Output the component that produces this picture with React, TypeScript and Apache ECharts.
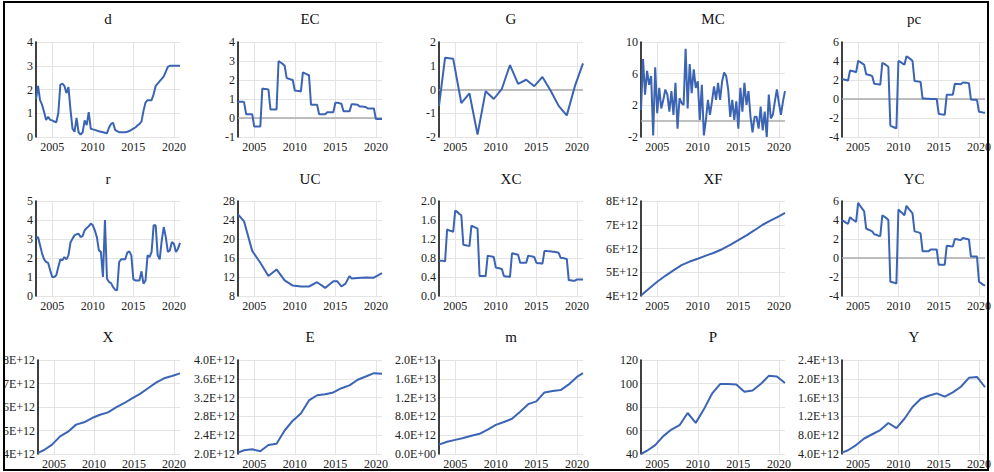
import { useEffect, useRef } from "react";
import * as echarts from "echarts";

// ---------- time positions ----------
const QUARTERS: number[] = Array.from({ length: 72 }, (_, i) => 2003 + i / 4);
const ANNUAL_Q4: number[] = [2003, 2003.75, 2004.75, 2005.75, 2006.75, 2007.75, 2008.75, 2009.75, 2010.75, 2011.75, 2012.75, 2013.75, 2014.75, 2015.75, 2016.75, 2017.75, 2018.75, 2019.75, 2020.75];
const YEARS_END: number[] = [2003, 2004, 2005, 2006, 2007, 2008, 2009, 2010, 2011, 2012, 2013, 2014, 2015, 2016, 2017, 2018, 2019, 2020, 2020.75];
const UC_X: number[] = [2003, 2003.75, 2004.75, 2005.75, 2006.75, 2007.75, 2008.75, 2009.75, 2010.75, 2011.75, 2012.75, 2013.75, 2014.75, 2015.25, 2015.75, 2016.25, 2016.75, 2017.0, 2017.75, 2018.75, 2019.75, 2020.75];
const X_TICKS: number[] = [2005, 2010, 2015, 2020];

// ---------- series values ----------
const D: number[] = [
  1.6, 2.15, 1.55, 1.35, 1.05, 0.72, 0.85, 0.72,
  0.7, 0.65, 0.62, 1.0, 2.2, 2.25, 2.15, 1.85,
  2.1, 1.15, 0.35, 0.22, 0.8, 0.2, 0.1, 0.2,
  0.7, 0.5, 1.05, 0.35, 0.32, 0.3, 0.27, 0.24,
  0.22, 0.2, 0.18, 0.16, 0.4, 0.55, 0.6, 0.3,
  0.25, 0.2, 0.2, 0.2, 0.2, 0.22, 0.25, 0.3,
  0.35, 0.4, 0.48, 0.55, 0.65, 1.1, 1.45, 1.55,
  1.55, 1.55, 1.8, 2.15, 2.25, 2.35, 2.45, 2.55,
  2.75, 2.95, 3.0, 3.0, 3.0, 3.0, 3.0, 3.0,
];
const EC: number[] = [
  0.85, 0.85, 0.85, 0.84, 0.2, 0.2, 0.2, 0.2,
  -0.45, -0.45, -0.45, -0.45, 1.55, 1.53, 1.52, 1.5,
  0.45, 0.45, 0.45, 0.45, 3.0, 2.92, 2.85, 2.75,
  2.1, 2.07, 2.03, 2.0, 1.45, 1.43, 1.42, 1.4,
  2.4, 2.35, 2.3, 2.25, 0.7, 0.7, 0.7, 0.7,
  0.2, 0.2, 0.2, 0.2, 0.3, 0.3, 0.3, 0.3,
  0.8, 0.8, 0.78, 0.75, 0.35, 0.35, 0.35, 0.35,
  0.72, 0.72, 0.71, 0.7, 0.6, 0.6, 0.59, 0.58,
  0.5, 0.5, 0.5, 0.5, -0.05, -0.05, -0.05, -0.05,
];
const G: number[] = [-0.69, 1.34, 1.29, -0.57, -0.16, -1.9, -0.07, -0.4, 0.03, 1.03, 0.24, 0.41, 0.14, 0.53, -0.04, -0.69, -1.09, 0.14, 1.1];
const MC: number[] = [
  1.4, 7.85, 3.35, 6.35, 4.6, 5.7, -1.8, 6.8, 1.0, 4.2,
  1.6, 2.7, 4.0, 3.35, 1.2, 3.8, 0.8, 4.85, -0.95, 2.9,
  2.3, 2.05, 9.15, 1.6, 7.2, 3.55, 6.55, 4.2, 5.05, 0.15,
  4.6, -1.8, 0.15, 2.7, 0.8, 2.5, 4.4, 2.7, 4.85, 2.7,
  5.05, 6.15, 5.7, 4.0, 0.55, 2.7, 0.15, 2.5, -0.95, 4.2,
  1.2, 4.85, 2.05, 3.8, 0.55, -1.4, 0.55, 0.55, -0.95, 1.85,
  -1.15, 1.2, -2.0, 3.35, 0.35, 0.8, 2.5, 4.0, 2.3, 0.8,
  2.5, 3.8,
];
const PC: number[] = [
  2.1, 2.05, 2.0, 1.95, 3.0, 2.95, 2.9, 2.8,
  4.0, 3.9, 3.75, 3.6, 2.6, 2.55, 2.5, 2.4,
  1.6, 1.57, 1.55, 1.5, 3.8, 3.7, 3.55, 3.4,
  -2.8, -2.9, -3.0, -3.1, 4.0, 3.9, 3.75, 3.6,
  4.5, 4.35, 4.2, 4.0, 1.9, 1.87, 1.83, 1.8,
  0.05, 0.04, 0.03, 0.02, 0.0, 0.0, 0.0, 0.0,
  -1.55, -1.6, -1.62, -1.65, 0.45, 0.45, 0.45, 0.45,
  1.6, 1.58, 1.57, 1.55, 1.75, 1.72, 1.7, 1.65,
  -0.05, -0.07, -0.08, -0.1, -1.35, -1.38, -1.42, -1.45,
];
const R: number[] = [
  3.05, 3.1, 2.67, 2.23, 1.93, 1.79, 1.74, 1.35, 1.0, 1.0,
  1.09, 1.53, 1.93, 1.88, 2.05, 1.93, 2.14, 2.81, 3.02, 3.19,
  3.25, 3.28, 3.1, 3.16, 3.46, 3.58, 3.67, 3.81, 3.72, 3.46,
  3.1, 2.4, 2.32, 1.0, 4.0, 0.91, 0.74, 0.68, 0.47, 0.33,
  0.3, 1.79, 1.93, 1.93, 1.93, 2.28, 2.35, 2.14, 0.88, 0.82,
  0.82, 0.82, 1.3, 0.65, 0.82, 2.14, 2.05, 2.32, 3.72, 3.72,
  2.14, 1.93, 2.93, 3.63, 3.1, 2.32, 2.4, 2.84, 2.75, 2.32,
  2.49, 2.8,
];
const UC: number[] = [25.2, 23.7, 17.5, 15.0, 12.2, 13.6, 11.3, 10.2, 10.0, 10.0, 10.9, 9.7, 11.1, 11.1, 10.0, 10.6, 12.2, 11.7, 11.8, 11.9, 11.85, 12.8];
const XC: number[] = [
  0.75, 0.74, 0.74, 0.73, 1.4, 1.38, 1.37, 1.35,
  1.8, 1.77, 1.73, 1.7, 1.08, 1.07, 1.06, 1.05,
  1.48, 1.46, 1.44, 1.42, 0.42, 0.42, 0.42, 0.42,
  0.85, 0.84, 0.83, 0.82, 0.6, 0.59, 0.58, 0.57,
  0.42, 0.41, 0.41, 0.4, 0.9, 0.89, 0.88, 0.87,
  0.7, 0.7, 0.7, 0.7, 0.85, 0.84, 0.83, 0.82,
  0.7, 0.69, 0.69, 0.68, 0.95, 0.95, 0.94, 0.94,
  0.93, 0.93, 0.92, 0.91, 0.8, 0.8, 0.79, 0.78,
  0.33, 0.33, 0.32, 0.32, 0.35, 0.35, 0.35, 0.35,
];
const XF: number[] = [4.02e12, 4.32e12, 4.6e12, 4.85e12, 5.08e12, 5.3e12, 5.45e12, 5.57e12, 5.7e12, 5.82e12, 5.97e12, 6.15e12, 6.35e12, 6.55e12, 6.77e12, 7.0e12, 7.18e12, 7.35e12, 7.5e12];
const YC: number[] = [
  4.0, 3.85, 3.7, 3.6, 4.3, 4.1, 3.95, 3.8,
  5.8, 5.5, 5.2, 4.9, 3.1, 3.0, 2.9, 2.8,
  2.5, 2.45, 2.35, 2.3, 4.5, 4.35, 4.2, 4.0,
  -2.5, -2.55, -2.6, -2.7, 5.1, 4.9, 4.7, 4.5,
  5.5, 5.2, 4.95, 4.7, 2.8, 2.75, 2.7, 2.6,
  0.7, 0.7, 0.7, 0.7, 0.9, 0.9, 0.9, 0.9,
  -0.7, -0.7, -0.7, -0.7, 1.3, 1.27, 1.23, 1.2,
  2.0, 1.97, 1.93, 1.9, 2.1, 2.05, 2.0, 1.95,
  0.15, 0.15, 0.15, 0.15, -2.5, -2.65, -2.8, -2.9,
];
const X: number[] = [4.05e12, 4.17e12, 4.4e12, 4.75e12, 4.95e12, 5.25e12, 5.35e12, 5.53e12, 5.67e12, 5.77e12, 5.98e12, 6.16e12, 6.37e12, 6.56e12, 6.8e12, 7.04e12, 7.22e12, 7.32e12, 7.43e12];
const E: number[] = [2.03e12, 2.08e12, 2.1e12, 2.06e12, 2.19e12, 2.22e12, 2.5e12, 2.71e12, 2.86e12, 3.14e12, 3.25e12, 3.27e12, 3.31e12, 3.4e12, 3.46e12, 3.58e12, 3.65e12, 3.72e12, 3.71e12];
const M: number[] = [2.0e12, 2.6e12, 3.0e12, 3.4e12, 3.9e12, 4.3e12, 5.2e12, 6.2e12, 6.8e12, 7.5e12, 9.0e12, 10.6e12, 11.2e12, 13.1e12, 13.4e12, 13.6e12, 14.8e12, 16.4e12, 17.2e12];
const P: number[] = [40, 42.8, 47.6, 55.2, 60.8, 64.5, 74.9, 66.5, 78, 91.3, 99.5, 99.5, 99.2, 93, 94, 99.5, 106.5, 106, 100.5];
const Y: number[] = [4.3e12, 4.8e12, 5.9e12, 7.3e12, 8.2e12, 9.1e12, 10.6e12, 9.5e12, 11.5e12, 14.0e12, 15.7e12, 16.4e12, 16.9e12, 16.2e12, 17.1e12, 18.3e12, 20.2e12, 20.4e12, 18.2e12];

// ---------- formatting ----------
function sci(v: number, digits: number): string {
  if (Math.abs(v) < 1e-6) return (0).toFixed(digits) + "E+00";
  const s = v.toExponential(digits);
  const [mant, ex] = s.split("e");
  const sign = ex[0] === "-" ? "-" : "+";
  const num = ex.replace(/[+-]/, "").padStart(2, "0");
  return mant + "E" + sign + num;
}
const intFmt = (v: number) => String(Math.round(v));
const dec1 = (v: number) => v.toFixed(1);
const sci0 = (v: number) => sci(v, 0);
const sci1 = (v: number) => sci(v, 1);
const yearFmt = (v: number) => String(Math.round(v));

type Panel = { name: string; x: number[]; y: number[]; min: number; max: number; interval: number; fmt: (v: number) => string; zero?: boolean };

const PANELS: Panel[] = [
  { name: "d", x: QUARTERS, y: D, min: 0, max: 4, interval: 1, fmt: intFmt },
  { name: "EC", x: QUARTERS, y: EC, min: -1, max: 4, interval: 1, fmt: intFmt, zero: true },
  { name: "G", x: ANNUAL_Q4, y: G, min: -2, max: 2, interval: 1, fmt: intFmt, zero: true },
  { name: "MC", x: QUARTERS, y: MC, min: -2, max: 10, interval: 4, fmt: intFmt, zero: true },
  { name: "pc", x: QUARTERS, y: PC, min: -4, max: 6, interval: 2, fmt: intFmt, zero: true },
  { name: "r", x: QUARTERS, y: R, min: 0, max: 5, interval: 1, fmt: intFmt },
  { name: "UC", x: UC_X, y: UC, min: 8, max: 28, interval: 4, fmt: intFmt },
  { name: "XC", x: QUARTERS, y: XC, min: 0, max: 2, interval: 0.4, fmt: dec1 },
  { name: "XF", x: YEARS_END, y: XF, min: 4e12, max: 8e12, interval: 1e12, fmt: sci0 },
  { name: "YC", x: QUARTERS, y: YC, min: -4, max: 6, interval: 2, fmt: intFmt, zero: true },
  { name: "X", x: ANNUAL_Q4, y: X, min: 4e12, max: 8e12, interval: 1e12, fmt: sci0 },
  { name: "E", x: ANNUAL_Q4, y: E, min: 2e12, max: 4e12, interval: 0.4e12, fmt: sci1 },
  { name: "m", x: YEARS_END, y: M, min: 0, max: 2e13, interval: 4e12, fmt: sci1 },
  { name: "P", x: ANNUAL_Q4, y: P, min: 40, max: 120, interval: 20, fmt: intFmt },
  { name: "Y", x: ANNUAL_Q4, y: Y, min: 4e12, max: 2.4e13, interval: 4e12, fmt: sci1 },
];

// ---------- layout ----------
const COL_LEFT = [36, 238, 439, 641, 842];
const PLOT_W = 144;
const ROW_TOP = [42, 201, 360];
const ROW_H = [95, 95, 94];
const TITLE_Y = [19, 179, 337];
const FONT = "'Liberation Serif', 'Times New Roman', serif";
const LINE_COLOR = "#3c64b4";
const GRID_COLOR = "#e4e4e4";
const TEXT_COLOR = "#222";

export default function App() {
  const ref = useRef<HTMLDivElement>(null);
  useEffect(() => {
    if (!ref.current) return;
    const chart = echarts.init(ref.current, undefined, { renderer: "svg" });
    const grid: any[] = [];
    const xAxis: any[] = [];
    const yAxis: any[] = [];
    const series: any[] = [];
    const graphic: any[] = [];
    PANELS.forEach((p, i) => {
      const c = i % 5;
      const r = Math.floor(i / 5);
      grid.push({ left: COL_LEFT[c], top: ROW_TOP[r], width: PLOT_W, height: ROW_H[r], containLabel: false });
      xAxis.push({
        type: "value", gridIndex: i, min: 2003, max: 2020.75,
        axisLine: { show: false },
        axisTick: { show: false, customValues: X_TICKS },
        axisLabel: { customValues: X_TICKS, formatter: yearFmt, fontFamily: FONT, fontSize: 12, color: TEXT_COLOR, margin: 4 },
        splitLine: { show: true, lineStyle: { color: GRID_COLOR, width: 1 } },
      });
      yAxis.push({
        type: "value", gridIndex: i, min: p.min, max: p.max, interval: p.interval,
        axisLine: { show: true, onZero: false, lineStyle: { color: "#000", width: 1.5 } },
        axisTick: { show: false },
        axisLabel: { formatter: p.fmt, fontFamily: FONT, fontSize: 12, color: TEXT_COLOR, margin: 3 },
        splitLine: { show: true, lineStyle: { color: GRID_COLOR, width: 1 } },
      });
      const s: any = {
        type: "line", name: p.name, xAxisIndex: i, yAxisIndex: i,
        data: p.x.map((xv, j) => [xv, p.y[j]]),
        showSymbol: false, symbol: "none",
        lineStyle: { color: LINE_COLOR, width: 2 },
        itemStyle: { color: LINE_COLOR },
        z: 3,
      };
      if (p.zero) {
        s.markLine = {
          silent: true, symbol: "none", label: { show: false },
          lineStyle: { color: "#ababab", width: 1.5, type: "solid" },
          data: [{ yAxis: 0 }], z: 1,
        };
      }
      series.push(s);
      graphic.push({
        type: "text", x: COL_LEFT[c] + PLOT_W / 2, y: TITLE_Y[r],
        style: { text: p.name, fontFamily: FONT, fontSize: 15, fill: "#111", textAlign: "center", textVerticalAlign: "middle" },
      });
    });
    graphic.push({
      type: "rect", shape: { x: 4, y: 2, width: 984, height: 468 },
      style: { fill: "none", stroke: "#000", lineWidth: 2 }, z: 10,
    });
    chart.setOption({
      animation: false,
      backgroundColor: "#fff",
      grid, xAxis, yAxis, series, graphic,
    });
    return () => chart.dispose();
  }, []);
  return <div ref={ref} style={{ position: "fixed", left: 0, top: 0, width: 994, height: 472 }} />;
}
